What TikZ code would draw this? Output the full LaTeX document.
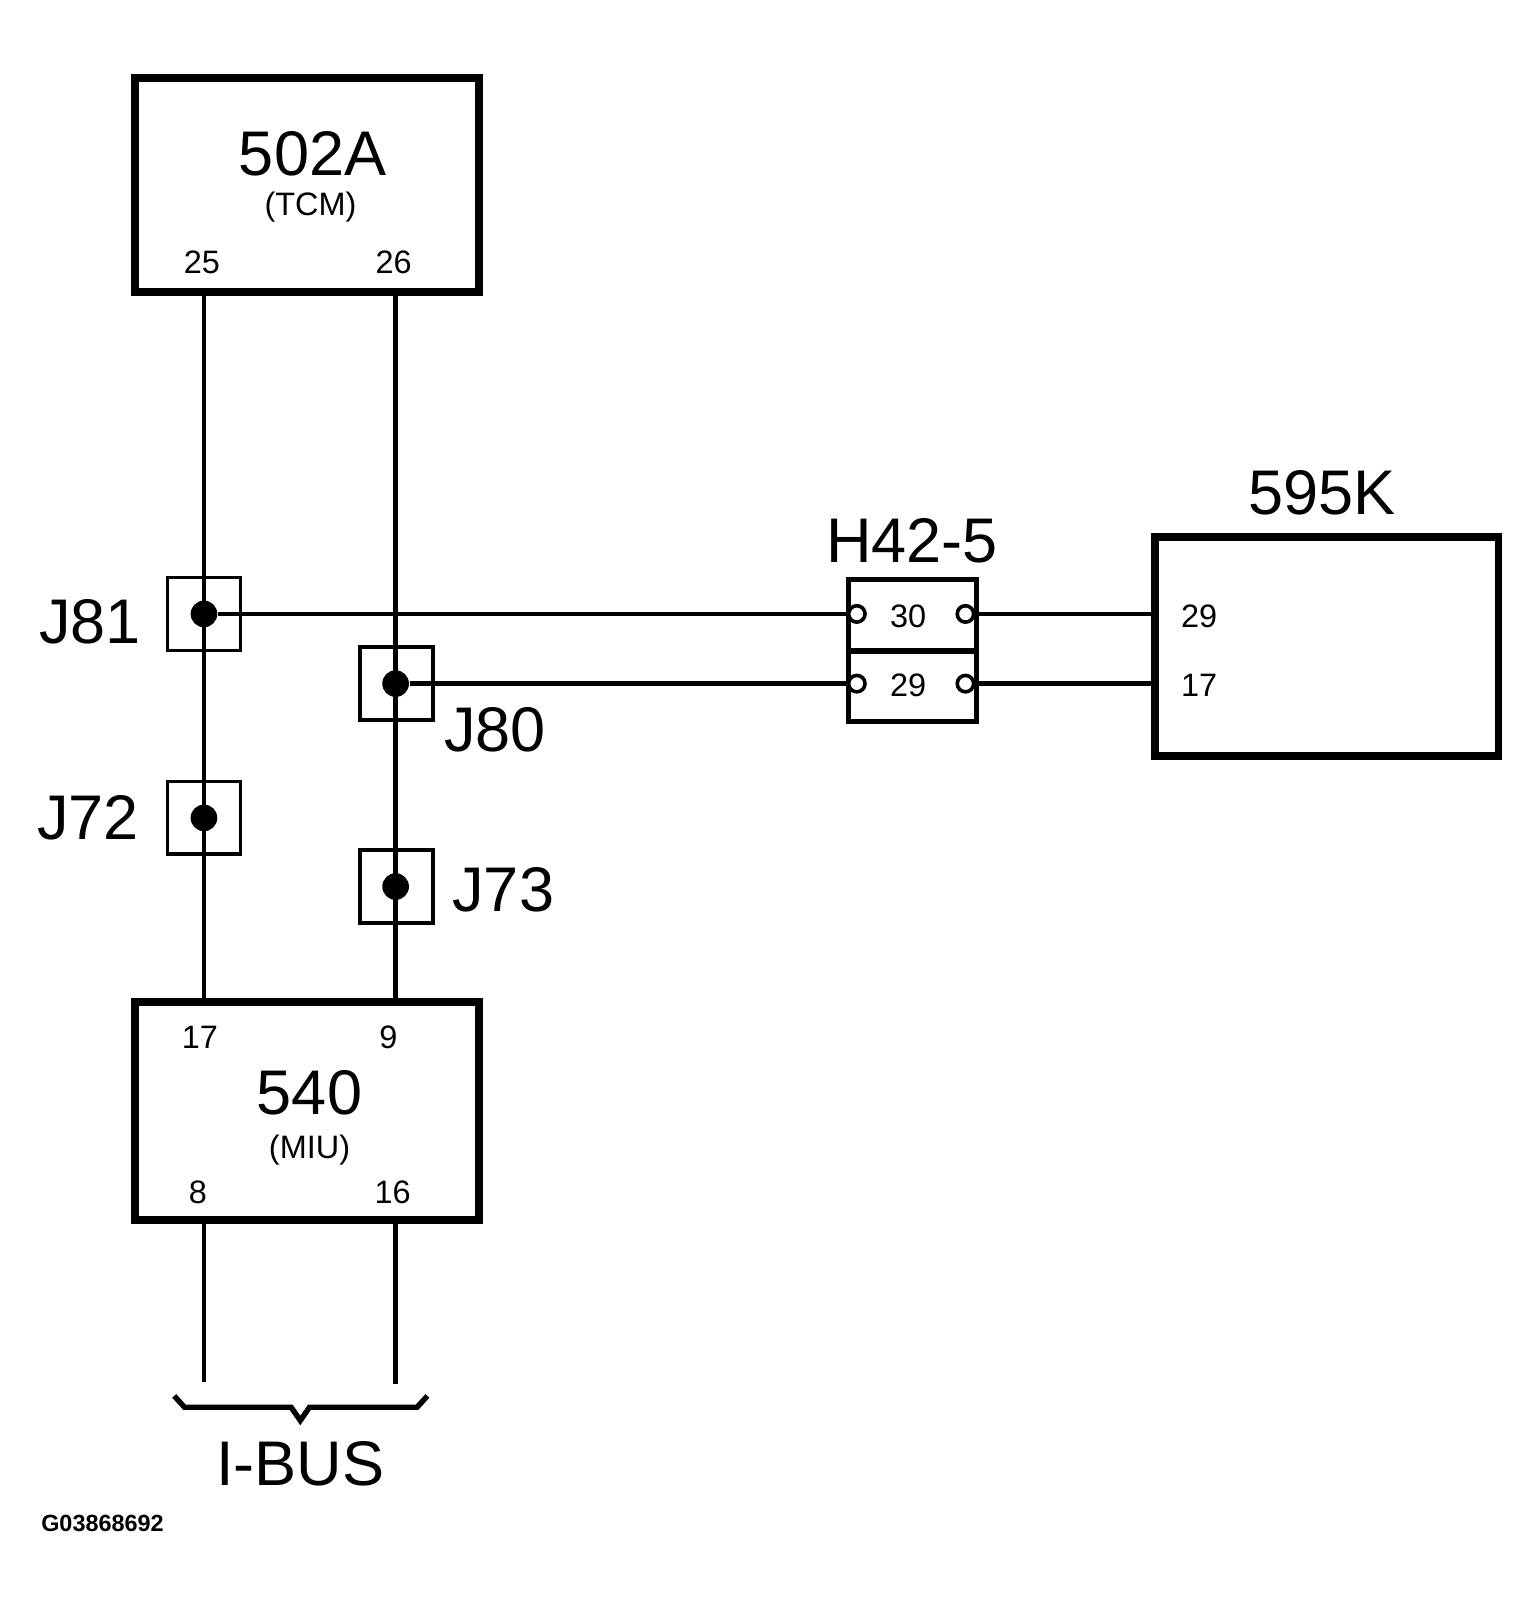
\documentclass[tikz,border=0pt]{standalone}
\usepackage{fontspec}
\setmainfont{Liberation Sans}
\begin{document}
\begin{tikzpicture}[x=0.01cm,y=-0.01cm,
  big/.style={font=\fontsize{17.5}{17.5}\selectfont},
  mid/.style={font=\fontsize{9}{9}\selectfont},
  pin/.style={font=\fontsize{9}{9}\selectfont},
  wire/.style={line width=1.2pt},
  comp/.style={draw,line width=2.2pt,inner sep=0pt},
  jbox/.style={draw,line width=1pt,minimum size=0.71cm,inner sep=0pt},
  dot/.style={circle,fill=black,minimum size=0.26cm,inner sep=0pt},
  oc/.style={circle,draw,fill=white,line width=1pt,minimum size=0.16cm,inner sep=0pt}]
\useasboundingbox (0,0) rectangle (1500,1566);
% components
\node[comp,minimum width=3.35cm,minimum height=2.09cm] (tcm) at (299.5,180.5) {};
\node[big] (tcmL) at (305,150) {502A};
\node[mid] (tcmS) at (303,202) {(TCM)};
\node[pin] (p25) at (197,256) {25};
\node[pin] (p26) at (384,256) {26};
\node[comp,minimum width=3.35cm,minimum height=2.12cm] (miu) at (299.5,1084) {};
\node[big] (miuL) at (302,1066) {540};
\node[mid] (miuS) at (302,1122) {(MIU)};
\node[pin] (p17) at (195,1012) {17};
\node[pin] (p9) at (379,1012) {9};
\node[pin] (p8) at (193,1163) {8};
\node[pin] (p16) at (383,1163) {16};
\node[comp,minimum width=3.35cm,minimum height=2.14cm] (k) at (1294.5,631) {};
\node[big] (kL) at (1290,481) {595K};
\node[pin] (k29) at (1170,601) {29};
\node[pin] (k17) at (1170,669) {17};
% coordinates
\coordinate (a1) at (199,285); \coordinate (a2) at (199,978);
\coordinate (b1) at (386,285); \coordinate (b2) at (386,978);
\coordinate (c1) at (199,1190); \coordinate (c2) at (199,1348);
\coordinate (d1) at (386,1190); \coordinate (d2) at (386,1350);
\draw[wire] (a1) -- (a2); \draw[wire] (b1) -- (b2);
\draw[wire] (c1) -- (c2); \draw[wire] (d1) -- (d2);
% junctions
\node[jbox,fill=white] (j81) at (199,599) {}; \node[dot] (d81) at (199,599) {};
\node[jbox,fill=white] (j80) at (387,667) {}; \node[dot] (d80) at (386,667) {};
\node[jbox,fill=white] (j72) at (199,798) {}; \node[dot] (d72) at (199,798) {};
\node[jbox,fill=white] (j73) at (387,865) {}; \node[dot] (d73) at (386,865) {};
\draw[wire] (199,564) -- (199,634); \draw[wire] (199,762) -- (199,833);
\draw[wire] (386,631) -- (386,702); \draw[wire] (386,831) -- (386,900);
\node[big,anchor=east] (l81) at (150,607) {J81};
\node[big,anchor=west] (l80) at (421,712) {J80};
\node[big,anchor=east] (l72) at (148,798) {J72};
\node[big,anchor=west] (l73) at (429,868) {J73};
% H42-5
\node[draw,line width=1.5pt,minimum width=1.25cm,minimum height=0.69cm,inner sep=0pt] (h1) at (890.5,600) {};
\node[draw,line width=1.5pt,minimum width=1.25cm,minimum height=0.69cm,inner sep=0pt] (h2) at (890.5,669.5) {};
\node[pin] (h30) at (886,601) {30};
\node[pin] (h29) at (886,669) {29};
\node[big] (hL) at (890,528) {H42-5};
\node[oc] (o1) at (836,599) {}; \node[oc] (o2) at (942,599) {};
\node[oc] (o3) at (836,667) {}; \node[oc] (o4) at (942,667) {};
\draw[wire] (d81) -- (o1); \draw[wire] (d80) -- (o3);
\draw[wire] (o2) -- (k.west |- o2); \draw[wire] (o4) -- (k.west |- o4);
% brace
\draw[line width=1.5pt] (170,1362) -- (180,1373) -- (284,1373) -- (293,1386) -- (302,1373) -- (407,1373) -- (417,1362);
\node[big] (bus) at (293,1428) {I-BUS};
\node[font=\fontsize{6.5}{6.5}\selectfont\bfseries] (code) at (100,1486) {G03868692};
\end{tikzpicture}
\end{document}
